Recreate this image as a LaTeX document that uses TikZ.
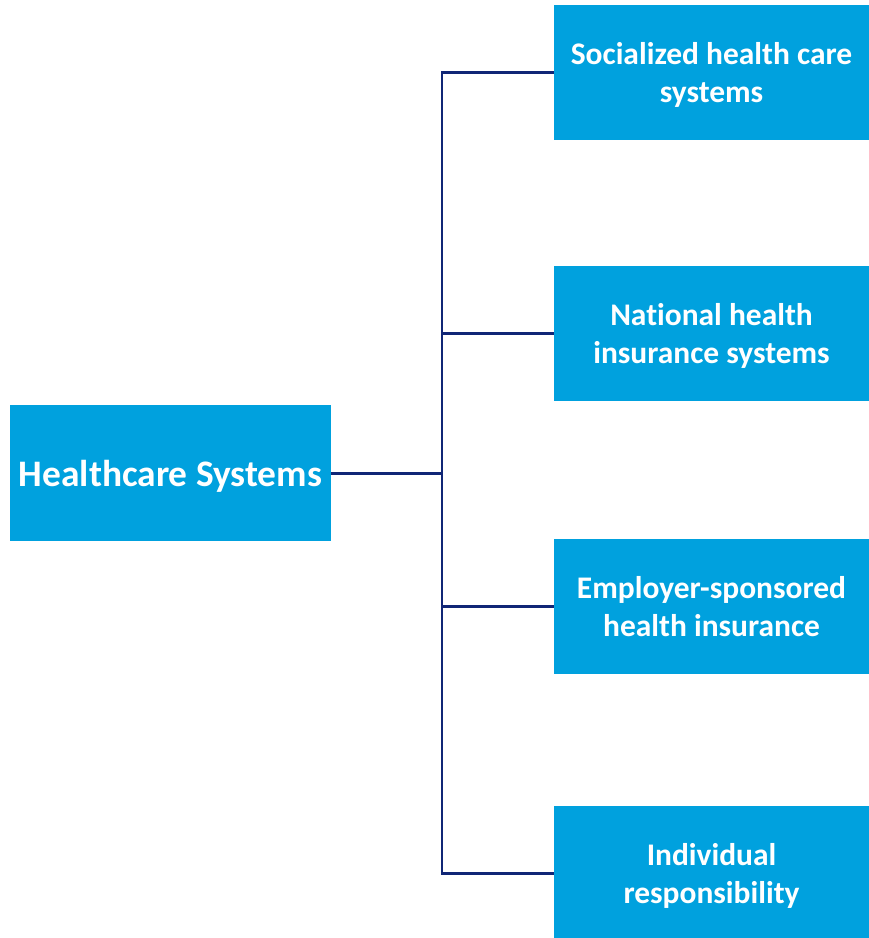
\documentclass[tikz,border=0pt]{standalone}
\usepackage{fontspec}
\setmainfont{Carlito}[Ligatures=NoCommon]
\usetikzlibrary{positioning}
\definecolor{boxblue}{RGB}{0,161,222}
\definecolor{linenavy}{RGB}{16,38,118}
\tikzset{>=latex}
\tikzstyle{rootbox}=[fill=boxblue,text=white,font=\bfseries\fontsize{21.3}{24}\selectfont,minimum width=6.42cm,minimum height=2.72cm,inner sep=0pt,text depth=0pt,align=center]
\tikzstyle{leafbox}=[fill=boxblue,text=white,font=\bfseries\fontsize{17.9}{21.8}\selectfont,minimum width=6.3cm,minimum height=2.7cm,inner sep=0pt,text depth=0pt,align=center]
\tikzstyle{branch}=[draw=linenavy,line width=1.7pt]

\begin{document}
\begin{tikzpicture}[x=0.02cm,y=-0.02cm]
		\useasboundingbox (0,0) rectangle (869,938);
		\clip (0,0) rectangle (869,938);
		\node[rootbox] (hs) at (170.5,473) {Healthcare Systems};
		\node[leafbox] (soc) at (711.5,72.5) {Socialized health care\\systems};
		\node[leafbox] (nat) at (711.5,333.5) {National health\\insurance systems};
		\node[leafbox] (emp) at (711.5,606.5) {Employer-sponsored\\health insurance};
		\node[leafbox] (ind) at (711.5,873.5) {Individual\\responsibility};
		\coordinate (bus) at (442,473);
		
		\draw[branch] (hs) -- (bus);
		\foreach \leaf in {soc,nat,emp,ind}
			\draw[branch] (bus) |- (\leaf);
		
	\end{tikzpicture}
\end{document}
